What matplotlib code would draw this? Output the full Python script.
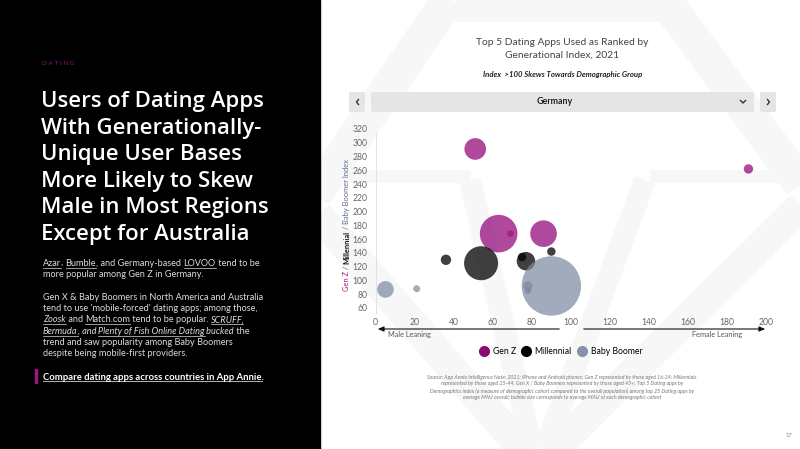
import numpy as np
import matplotlib.pyplot as plt
from matplotlib.patches import Rectangle, FancyBboxPatch
from matplotlib.lines import Line2D

# ---- data ----
groups = ["Gen Z", "Millennial", "Baby Boomer"]
genz_gender = [51, 63, 69, 86, 191]
genz_index = [291, 168, 168, 168, 262]
genz_mau = [117, 353, 11, 177, 22]
mill_gender = [36, 54, 77, 75, 90]
mill_index = [130, 125, 128, 134, 142]
mill_mau = [27, 289, 86, 18, 18]
boom_gender = [5, 21, 90, 78, 78]
boom_index = [87, 88, 92, 92, 85]
boom_mau = [69, 12, 882, 22, 11]
x_ticks = [0, 20, 40, 60, 80, 100, 120, 140, 160, 180, 200]
y_ticks = [60, 80, 100, 120, 140, 160, 180, 200, 220, 240, 260, 280, 300, 320]

bubble_colors = ["#9b1b84", "#000000", "#7a889f"]
legend_colors = ["#8b0b73", "#000000", "#8791aa"]

W, H = 800, 449
fig = plt.figure(figsize=(8, 4.49), dpi=100)
fig.patch.set_facecolor("white")

# page background in pixel coordinates
bg = fig.add_axes([0, 0, 1, 1], zorder=-5)
bg.set_xlim(0, W)
bg.set_ylim(H, 0)
bg.axis("off")

wm = "#f7f7f7"
def band(p, q, w):
    bg.plot([p[0], q[0]], [p[1], q[1]], color=wm, lw=w * 0.72, solid_capstyle="butt", zorder=0)

band((462, -20), (315, 195), 34)
band((650, -20), (805, 190), 34)
band((455, 11), (665, 11), 22)
band((318, 176), (470, 176), 13)
band((650, 176), (802, 176), 13)
band((470, 180), (532, 449), 22)
band((645, 180), (545, 449), 22)
band((318, 215), (525, 452), 30)
band((802, 205), (552, 452), 30)

bg.add_patch(Rectangle((0, 0), 320, H, color="black", zorder=1))

renderer = fig.canvas.get_renderer()

def px(x, y):
    return x / W, 1 - y / H

def seg_width(txt, size, family, style, weight):
    bar = fig.text(0, 0, "|", fontsize=size, family=family, style=style, fontweight=weight)
    probe = fig.text(0, 0, txt + "|", fontsize=size, family=family, style=style, fontweight=weight)
    w = probe.get_window_extent(renderer).width - bar.get_window_extent(renderer).width
    probe.remove()
    bar.remove()
    return w

def rich_line(x, y, parts, size, color, family="Lato", weight="normal", center=False):
    # parts: (text, italic, underline)
    widths = [seg_width(t, size, family, "italic" if i else "normal", weight) for t, i, u in parts]
    cur = x - sum(widths) / 2 if center else x
    for (txt, ital, und), w in zip(parts, widths):
        style = "italic" if ital else "normal"
        fig.text(*px(cur, y), txt, fontsize=size, color=color, family=family,
                 style=style, fontweight=weight, va="baseline", ha="left")
        if und:
            uw = seg_width(txt.rstrip(" ,.").strip(), size, family, style, weight)
            bg.plot([cur, cur + uw], [y + 1.6, y + 1.6], color=color, lw=0.5, zorder=3)
        cur += w

# ---- left panel ----
fig.text(*px(42, 65), "D A T I N G", fontsize=4.6, color="#8e1a7a", family="Lato", va="baseline")
title_lines = ["Users of Dating Apps", "With Generationally-", "Unique User Bases",
               "More Likely to Skew", "Male in Most Regions", "Except for Australia"]
for i, line in enumerate(title_lines):
    fig.text(*px(41, 107 + i * 26.6), line, fontsize=15.9, color="white",
             family="Open Sans", fontweight="semibold", va="baseline")

body = "#dcdcdc"
bs = 6.6
rich_line(43, 266, [("Azar", 0, 1), (", ", 0, 0), ("Bumble", 0, 1), (", and Germany-based ", 0, 0),
                    ("LOVOO", 0, 1), (" tend to be", 0, 0)], bs, body)
rich_line(43, 277, [("more popular among Gen Z in Germany.", 0, 0)], bs, body)
rich_line(43, 300, [("Gen X & Baby Boomers in North America and Australia", 0, 0)], bs, body)
rich_line(43, 311, [("tend to use 'mobile-forced' dating apps; among those,", 0, 0)], bs, body)
rich_line(43, 322.5, [("Zoosk", 1, 1), (" and ", 0, 0), ("Match.com", 0, 1),
                      (" tend to be popular. ", 0, 0), ("SCRUFF,", 1, 1)], bs, body)
rich_line(43, 334, [("Bermuda", 1, 1), (", and ", 1, 0), ("Plenty of Fish Online Dating", 1, 1),
                    (" bucked", 1, 0), (" the", 0, 0)], bs, body)
rich_line(43, 345, [("trend and saw popularity among Baby Boomers", 0, 0)], bs, body)
rich_line(43, 356.5, [("despite being mobile-first providers.", 0, 0)], bs, body)
bg.add_patch(Rectangle((35, 369), 2.2, 14, color="#a0157f", zorder=3))
rich_line(43, 379.5, [("Compare dating apps across countries in App Annie.", 0, 1)], 6.8, "white",
          weight="bold")

# ---- right panel header ----
fig.text(*px(562, 45), "Top 5 Dating Apps Used as Ranked by", fontsize=7.4, color="#444444",
         family="Lato", ha="center", va="baseline")
fig.text(*px(562, 58), "Generational Index, 2021", fontsize=7.4, color="#444444",
         family="Lato", ha="center", va="baseline")
fig.text(*px(563, 76.5), "Index  >100 Skews Towards Demographic Group", fontsize=5.6,
         color="#222222", family="Lato", style="italic", fontweight="bold",
         ha="center", va="baseline")

for x0, x1 in [(349, 365), (371, 754), (760, 776)]:
    bg.add_patch(FancyBboxPatch((x0, 92), x1 - x0, 20, boxstyle="round,pad=0,rounding_size=1.5",
                                fc="#e5e5e5", ec="none", zorder=2))
fig.text(*px(555, 102), "Germany", fontsize=6.4, color="#222222", family="Lato",
         fontweight="bold", ha="center", va="center")
bg.plot([740.5, 743, 745.5], [100.5, 103, 100.5], color="#333333", lw=1.0, zorder=3)
bg.plot([358.5, 356.5, 358.5], [99.5, 102, 104.5], color="#333333", lw=1.0, zorder=3)
bg.plot([767.5, 769.5, 767.5], [99.5, 102, 104.5], color="#333333", lw=1.0, zorder=3)

# ---- bubble chart ----
ax = fig.add_axes([375.7 / W, 0.3033, (766 - 375.7) / W, 0.4125])
ax.patch.set_alpha(0)
ax.set_xlim(0, 200)
ax.set_ylim(53, 322)
pt_per_unit = 2.0736
series = [(genz_gender, genz_index, genz_mau),
          (mill_gender, mill_index, mill_mau),
          (boom_gender, boom_index, boom_mau)]
alphas = [0.8, 0.75, 0.7]
for (gx, gy, gs), c, a in zip(series, bubble_colors, alphas):
    ax.scatter(gx, gy, s=np.array(gs) * pt_per_unit, color=c, alpha=a,
               edgecolors="none", clip_on=False, zorder=3)

ax.set_xticks(x_ticks)
ax.set_yticks(y_ticks)
ax.tick_params(length=0, labelsize=6.2, labelcolor="#666666", pad=4)
for lab in ax.get_xticklabels() + ax.get_yticklabels():
    lab.set_family("Lato")
ax.tick_params(axis="y", pad=6)
for s in ["top", "right", "bottom"]:
    ax.spines[s].set_visible(False)
ax.spines["left"].set_color("#e2e2e2")
ax.spines["left"].set_linewidth(0.7)
ax.spines["left"].set_bounds(53, 314)

# multi-colour y label
ylab = [("Gen Z", "#9b1b84", "normal"), (" / ", "#555555", "normal"),
        ("Millennial", "#111111", "bold"), (" / Baby Boomer Index", "#5c6c8c", "normal")]
widths = [seg_width(t, 5.4, "Lato", "normal", wgt) for t, c, wgt in ylab]
ycur = 225 + sum(widths) / 2
for (txt, c, wgt), w in zip(ylab, widths):
    fig.text(*px(346.5, ycur), txt, fontsize=5.4, color=c, family="Lato", fontweight=wgt,
             rotation=90, rotation_mode="anchor", ha="left", va="center")
    ycur -= w

# leaning arrows
bg.annotate("", xy=(375, 329), xytext=(562, 329),
            arrowprops=dict(arrowstyle="-|>,head_length=0.35,head_width=0.15", color="#111111", lw=0.8))
bg.annotate("", xy=(768, 329), xytext=(581, 329),
            arrowprops=dict(arrowstyle="-|>,head_length=0.35,head_width=0.15", color="#111111", lw=0.8))
fig.text(*px(410, 336.5), "Male Leaning", fontsize=5.3, color="#555555", family="Lato",
         ha="center", va="baseline")
fig.text(*px(717, 336.5), "Female Leaning", fontsize=5.3, color="#555555", family="Lato",
         ha="center", va="baseline")

handles = [Line2D([], [], marker="o", ls="none", markersize=7, color=c) for c in legend_colors]
fig.legend(handles, groups, loc="center", bbox_to_anchor=px(561, 352), ncol=3, frameon=False,
           prop=dict(family="Lato", size=6.2), handletextpad=0.5, columnspacing=0.7,
           handlelength=1.0)

notes = [
    "Note: 2021; iPhone and Android phones; Gen Z represented by those aged 16-24; Millennials",
    "represented by those aged 25-44; Gen X / Baby Boomers represented by those aged 45+; Top 5 Dating apps by",
    "Demographics index (a measure of demographic cohort compared to the overall population) among top 25 Dating apps by",
    "average MAU overall; bubble size corresponds to average MAU of each demographic cohort",
]
rich_line(562, 378.5, [("Source: App Annie Intelligence ", 1, 0), (notes[0], 1, 0)], 3.75, "#777777",
          center=True)
for i, line in enumerate(notes[1:]):
    fig.text(*px(562, 385.5 + i * 7), line, fontsize=3.75, color="#777777", family="Lato",
             style="italic", ha="center", va="baseline")

fig.text(*px(789, 437), "17", fontsize=4.2, color="#888888", family="Lato", ha="center")

fig.savefig("out.png", dpi=100)
